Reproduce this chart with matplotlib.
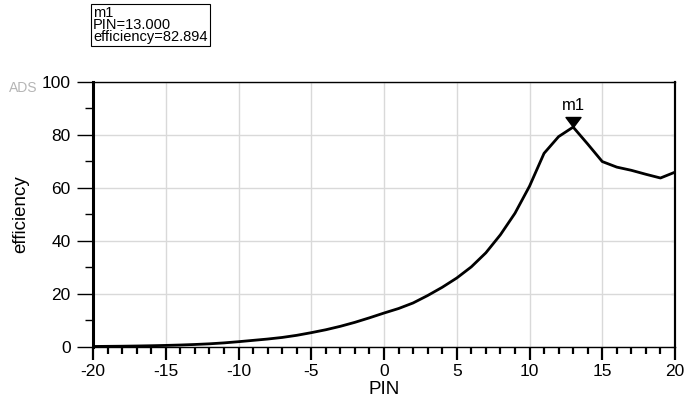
import numpy as np
import matplotlib
matplotlib.use("Agg")
import matplotlib.pyplot as plt
from matplotlib.path import Path
from matplotlib.ticker import MultipleLocator

# Datos
pin = list(range(-20, 21))
efficiency = [0.2, 0.25, 0.3, 0.38, 0.48, 0.6, 0.75, 0.95, 1.2, 1.55,
              2.0, 2.5, 3.0, 3.6, 4.4, 5.4, 6.5, 7.8, 9.3, 11.0,
              12.8, 14.5, 16.6, 19.4, 22.5, 26.0, 30.2, 35.5, 42.3, 50.4,
              60.6, 73.0, 79.3, 82.894, 76.5, 69.9, 67.8, 66.6, 65.1, 63.7, 65.9]
marker_name = "m1"
marker_x = 13.0
marker_y = 82.894

plt.rcParams['font.family'] = ['Liberation Sans', 'DejaVu Sans']
plt.rcParams['axes.unicode_minus'] = False

fig = plt.figure(figsize=(6.86, 4.12), dpi=100)
ax = fig.add_axes([93 / 686, 1 - 347 / 412, (675 - 93) / 686, (347 - 81.7) / 412])

ax.plot(pin, efficiency, color='black', lw=2.0, zorder=3)

# Marcador tipo ADS (triangulo con la punta en el punto)
tri = Path([(-0.75, 1.0), (0.75, 1.0), (0, 0), (-0.75, 1.0)],
           [Path.MOVETO, Path.LINETO, Path.LINETO, Path.CLOSEPOLY])
ax.plot([marker_x], [marker_y], marker=tri, markersize=14.4, color='black', zorder=4)
ax.annotate(marker_name, (marker_x, marker_y), xytext=(0, 10), textcoords='offset points',
            ha='center', va='bottom', fontsize=12)

ax.set_xlim(-20, 20)
ax.set_ylim(0, 100)
ax.xaxis.set_major_locator(MultipleLocator(5))
ax.xaxis.set_minor_locator(MultipleLocator(1))
ax.yaxis.set_major_locator(MultipleLocator(20))
ax.yaxis.set_minor_locator(MultipleLocator(10))

ax.grid(True, which='major', color='#d9d9d9', lw=1.0, zorder=0)
ax.tick_params(axis='x', which='major', direction='out', length=9, width=1.6,
               labelsize=12.5, pad=3)
ax.tick_params(axis='x', which='minor', direction='out', length=5, width=1.6)
ax.tick_params(axis='y', which='major', direction='out', length=11.5, width=1.0,
               labelsize=12.5, pad=4.5)
ax.tick_params(axis='y', which='minor', direction='out', length=5.8, width=1.0)

# ticks cortos hacia dentro en el eje derecho
sec = ax.secondary_yaxis('right')
sec.yaxis.set_major_locator(MultipleLocator(20))
sec.tick_params(direction='in', length=3, width=0.8, labelright=False)
sec.spines['right'].set_linewidth(1.5)

ax.spines['left'].set_linewidth(2.2)
ax.spines['bottom'].set_linewidth(1.0)
ax.spines['top'].set_linewidth(1.0)
ax.spines['right'].set_linewidth(1.5)

ax.set_xlabel('PIN', fontsize=13.5, labelpad=2)
ax.set_ylabel('efficiency', fontsize=13.5, labelpad=9)

# Caja del marcador
fig.text(93 / 686, 1 - 6 / 412,
         f"{marker_name}\nPIN={marker_x:.3f}\nefficiency={marker_y:.3f}",
         fontsize=10.5, va='top', ha='left', linespacing=0.82,
         bbox=dict(boxstyle='square,pad=0.15', fc='white', ec='black', lw=0.8))

fig.text(9 / 686, 1 - 92 / 412, 'ADS', fontsize=10, color='#b5b5b5', va='baseline')

fig.savefig('out.png', dpi=100)
